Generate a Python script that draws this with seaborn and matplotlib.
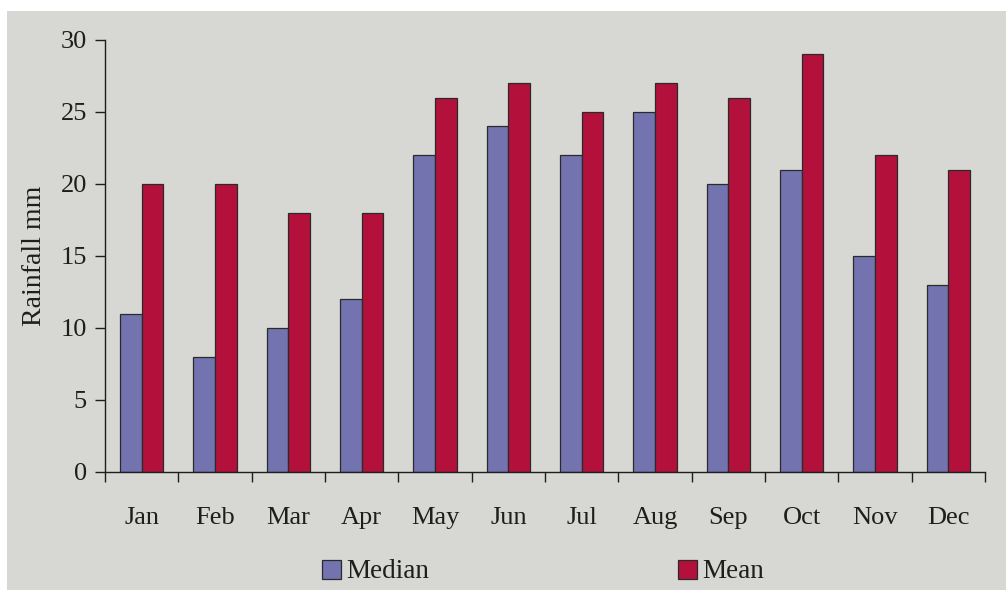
import matplotlib
matplotlib.use("Agg")
import matplotlib.pyplot as plt
import matplotlib.patches as mpatches
import numpy as np
import pandas as pd
import seaborn as sns

months = ["Jan", "Feb", "Mar", "Apr", "May", "Jun",
          "Jul", "Aug", "Sep", "Oct", "Nov", "Dec"]
median_mm = [11, 8, 10, 12, 22, 24, 22, 25, 20, 21, 15, 13]
mean_mm = [20, 20, 18, 18, 26, 27, 25, 27, 26, 29, 22, 21]
series_names = ["Median", "Mean"]
y_ticks = [0, 5, 10, 15, 20, 25, 30]

colors = {"Median": "#7373b0", "Mean": "#b3103c"}
panel_bg = "#d7d7d3"
ink = "#1e1e1e"

df = pd.DataFrame({
    "Month": months * 2,
    "Rainfall": median_mm + mean_mm,
    "Series": [series_names[0]] * len(months) + [series_names[1]] * len(months),
})

sns.set_theme(style="ticks")
plt.rcParams["font.family"] = ["Liberation Serif", "DejaVu Serif"]

fig = plt.figure(figsize=(10.06, 5.9), dpi=100)
fig.patch.set_facecolor("white")
# grey chart panel inside a thin white margin
fig.add_artist(mpatches.Rectangle((7 / 1006, 0), 999 / 1006, 579 / 590,
                                  transform=fig.transFigure, facecolor=panel_bg,
                                  edgecolor="none", zorder=0))

ax = fig.add_axes([105 / 1006, 1 - 472 / 590, 880 / 1006, 432 / 590])
ax.set_facecolor("none")

sns.barplot(data=df, x="Month", y="Rainfall", hue="Series", order=months,
            hue_order=series_names, palette=colors, width=0.59, gap=0,
            edgecolor="#2a2a2a", linewidth=0.9, saturation=1, legend=False, ax=ax)

ax.set_xlim(-0.5, len(months) - 0.5)
ax.set_ylim(0, 30)
ax.set_yticks(y_ticks)
ax.set_xlabel("")
ax.set_ylabel("Rainfall mm", fontsize=20, color=ink, labelpad=10)

ax.tick_params(axis="y", labelsize=19, colors=ink, length=7, width=1, pad=6)
ax.tick_params(axis="x", which="major", length=0, labelsize=19, colors=ink, pad=25)
ax.set_xticks(np.arange(-0.5, len(months), 1.0), minor=True)
ax.tick_params(axis="x", which="minor", length=7, width=1, colors=ink)

for side in ("top", "right"):
    ax.spines[side].set_visible(False)
for side in ("left", "bottom"):
    ax.spines[side].set_color(ink)
    ax.spines[side].set_linewidth(1)

handles = [mpatches.Patch(facecolor=colors[s], edgecolor="#2a2a2a", linewidth=0.9, label=s)
           for s in series_names]
fig.legend(handles=handles, loc="center", bbox_to_anchor=(543 / 1006, 1 - 572 / 590),
           ncol=2, frameon=False, fontsize=19.5, handlelength=0.7, handleheight=0.7,
           handletextpad=0.2, columnspacing=9.2, labelcolor=ink)

fig.savefig("out.png", dpi=100, facecolor=fig.get_facecolor())
